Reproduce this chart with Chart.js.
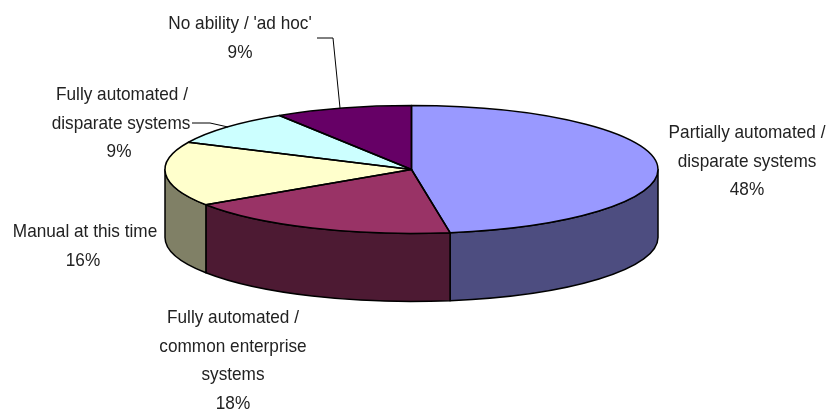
<!DOCTYPE html>
<html>
<head>
<meta charset="utf-8">
<style>
html,body{margin:0;padding:0;background:#fff;}
#wrap{position:relative;width:830px;height:412px;}
canvas{display:block;}
</style>
<script src="https://cdn.jsdelivr.net/npm/chart.js@4/dist/chart.umd.min.js"></script>
</head>
<body>
<div id="wrap"><canvas id="c" width="830" height="412"></canvas></div>
<script>
const categories = ["Partially automated / disparate systems","Fully automated / common enterprise systems","Manual at this time","Fully automated / disparate systems","No ability / 'ad hoc'"];
const shares = [47.5,18.2,16.3,9,9];
const topColors = ["#9999FF","#993366","#FFFFCC","#CCFFFF","#660066"];
const sideColors = ["#4D4D80","#4D1A33","#808066","#668080","#330033"];

const RX = 246.5, RY = 64, DEPTH = 68;
const labelLines = [
  {lines:["Partially automated /","disparate systems"], xs:[747,747,747], y:133},
  {lines:["Fully automated /","common enterprise","systems"], xs:[233,233,233,233], y:318},
  {lines:["Manual at this time"], xs:[85,83], y:232},
  {lines:["Fully automated /","disparate systems"], xs:[122,121,119], y:95},
  {lines:["No ability / 'ad hoc'"], xs:[240,240], y:24}
];
const leaders = [
  [[192,123],[210,123],[228,127]],
  [[317,38],[333,38],[340,108]]
];

const pie3d = {
  id:'pie3d',
  beforeDatasetsDraw(chart){
    const ctx = chart.ctx, arcs = chart.getDatasetMeta(0).data;
    ctx.save();
    ctx.lineWidth = 1.5; ctx.strokeStyle = '#000'; ctx.lineJoin = 'round';
    arcs.forEach((arc,i)=>{
      const a = Math.max(arc.startAngle,0), b = Math.min(arc.endAngle,Math.PI);
      if (b <= a) return;
      ctx.beginPath();
      ctx.ellipse(arc.x,arc.y,RX,RY,0,a,b);
      ctx.ellipse(arc.x,arc.y+DEPTH,RX,RY,0,b,a,true);
      ctx.closePath();
      ctx.fillStyle = sideColors[i];
      ctx.fill(); ctx.stroke();
    });
    const first = arcs[0];
    ctx.translate(first.x,first.y);
    ctx.scale(1,RY/RX);
    ctx.translate(-first.x,-first.y);
  },
  afterDatasetsDraw(chart){
    const ctx = chart.ctx, arcs = chart.getDatasetMeta(0).data;
    ctx.restore();
    ctx.save();
    ctx.lineWidth = 1.5; ctx.strokeStyle = '#000'; ctx.lineJoin = 'round';
    arcs.forEach(arc=>{
      ctx.beginPath();
      ctx.moveTo(arc.x,arc.y);
      ctx.ellipse(arc.x,arc.y,RX,RY,0,arc.startAngle,arc.endAngle);
      ctx.closePath();
      ctx.stroke();
    });
    ctx.lineWidth = 1;
    leaders.forEach(pts=>{
      ctx.beginPath();
      pts.forEach((p,i)=> i ? ctx.lineTo(p[0],p[1]) : ctx.moveTo(p[0],p[1]));
      ctx.stroke();
    });
    ctx.fillStyle = '#222';
    ctx.font = '18.5px "Liberation Sans",sans-serif';
    ctx.textAlign = 'center'; ctx.textBaseline = 'middle';
    labelLines.forEach((l,k)=>{
      const rows = l.lines.concat([Math.round(shares[k])+'%']);
      rows.forEach((t,i)=>{
        ctx.fillText(t,l.xs[i],l.y+i*28.7,ctx.measureText(t).width*0.93);
      });
    });
    ctx.restore();
  }
};

new Chart(document.getElementById('c'),{
  type:'pie',
  data:{labels:categories,datasets:[{data:shares,backgroundColor:topColors,borderWidth:0}]},
  options:{
    responsive:false,animation:false,radius:RX,
    layout:{padding:{left:0,right:7,top:0,bottom:73}},
    plugins:{legend:{display:false},tooltip:{enabled:false}}
  },
  plugins:[pie3d]
});
</script>
</body>
</html>
